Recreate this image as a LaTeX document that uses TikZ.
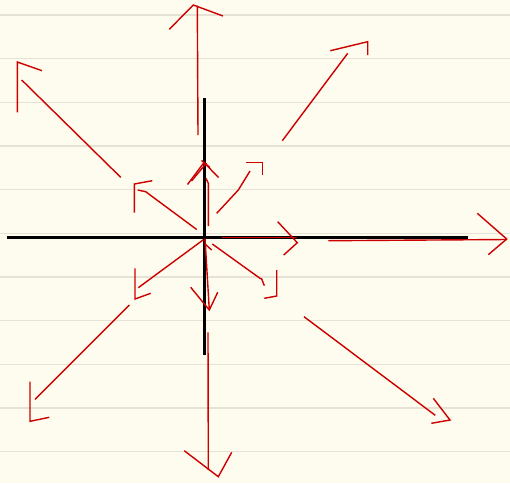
\documentclass[tikz,border=0pt]{standalone}
\definecolor{paper}{HTML}{FEFCEE}
\definecolor{rule}{HTML}{E6E3D6}
\definecolor{ink}{HTML}{CC0000}
\begin{document}
\begin{tikzpicture}[x=1pt,y=-1pt,
  ruleline/.style={draw=rule,line width=1.2pt},
  axis/.style={draw=black,line width=3pt},
  pen/.style={draw=ink,line width=1.4pt,line join=miter}]
\useasboundingbox (0,0) rectangle (510,483);
\fill[paper] (0,0) rectangle (510,483);
\foreach \y in {15,58.7,102.3,146,189.7,233.3,277,320.7,364.3,408,451.7}
  \draw[ruleline] (0,\y) -- (510,\y);
% axes
\draw[axis] (6.7,237.3) -- (467.7,237.3);
\draw[axis] (204,98.3) -- (204,355);
% long arrows
\draw[pen] (198,135) -- (197.3,5.7);
\draw[pen] (169.3,29.3) -- (193.3,5) -- (223,16);
\draw[pen] (282.3,140.7) -- (347.7,53.3);
\draw[pen] (330.3,50.7) -- (367.7,41.7) -- (367.7,55);
\draw[pen] (328.3,240.7) -- (506.7,239.5);
\draw[pen] (477.3,213.3) -- (506.7,239) -- (488.3,254.7);
\draw[pen] (304,316.7) -- (435.3,415.3);
\draw[pen] (433.3,398.3) -- (450,420) -- (431.3,423.3);
\draw[pen] (208,332.3) -- (208.3,470);
\draw[pen] (184.3,450.7) -- (218.3,476.7) -- (231.7,452.3);
\draw[pen] (129.3,305) -- (35,399.3);
\draw[pen] (30,381.7) -- (30,421.3) -- (49.3,417.3);
\draw[pen] (120.7,177.3) -- (21.7,80);
\draw[pen] (17.3,112.3) -- (17.3,62) -- (42,70.7);
% short arrows
\draw[pen] (208.3,226) -- (208.3,183.3) -- (206,178.3);
\draw[pen] (187.5,184.5) -- (204,162.5) -- (218.5,177.5);
\draw[pen] (191.5,181) -- (206.5,163);
\draw[pen] (201.5,160.5) -- (210,167.5);
\draw[pen] (216.7,213.3) -- (238.3,190) -- (250,171);
\draw[pen] (245.7,162.3) -- (262.7,162.3) -- (262.7,175);
\draw[pen] (221.7,237.3) -- (296.7,237.3);
\draw[pen] (277.7,221.7) -- (297.3,242.7) -- (283.7,255);
\draw[pen] (212.3,244) -- (260,278.3) to[out=35,in=-120] (265,285);
\draw[pen] (276.7,270) -- (276.7,296) -- (264.3,298.3);
\draw[pen] (205,238.3) -- (209.3,310);
\draw[pen] (190.7,287.3) -- (209.3,310) -- (217.7,292.3);
\draw[pen] (205.5,244.5) -- (211.7,250);
\draw[pen] (203.3,239.8) -- (138.3,287.7);
\draw[pen] (135,268.3) -- (135,299) -- (150.7,293.3);
\draw[pen] (196.7,229.5) -- (145.7,191.7) -- (137.7,190);
\draw[pen] (134.3,212.7) -- (134.3,184) -- (152.3,180.7);
\end{tikzpicture}
\end{document}
